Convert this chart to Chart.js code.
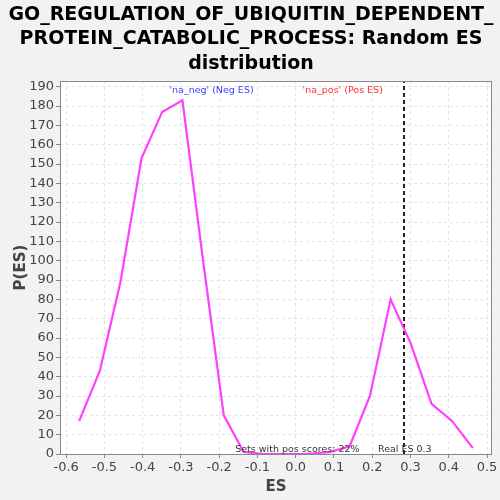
<!DOCTYPE html>
<html>
<head>
<meta charset="utf-8">
<script src="https://cdn.jsdelivr.net/npm/chart.js@4.4.0/dist/chart.umd.min.js"></script>
<style>
  html, body { margin: 0; padding: 0; background: #f2f2f2; }
  #wrap { width: 500px; height: 500px; }
</style>
</head>
<body>
<div id="wrap"><canvas id="c" width="500" height="500"></canvas></div>
<script>
// Datos
const esValues = [-0.566, -0.512, -0.458, -0.403, -0.349, -0.296, -0.242, -0.188, -0.136,
                  -0.082, -0.028, 0.027, 0.088, 0.141, 0.194, 0.248, 0.301, 0.355, 0.409, 0.463];
const pValues  = [17, 43, 89, 153, 177, 183, 100, 20, 1,
                  0, 0, 0, 1, 4, 30, 80, 57, 26, 17, 3];
const realES = 0.283;
const titleLines = ['GO_REGULATION_OF_UBIQUITIN_DEPENDENT_', 'PROTEIN_CATABOLIC_PROCESS: Random ES', 'distribution'];
const xRange = [-0.616, 0.513];
const yRange = [0, 193];

const FONT = '"DejaVu Sans", Tahoma, sans-serif';

// Fondo, título, borde y textos anotados (plugin propio)
const decor = {
  id: 'decor',
  beforeDraw(chart) {
    const { ctx, chartArea: a } = chart;
    ctx.save();
    ctx.fillStyle = '#f2f2f2';
    ctx.fillRect(0, 0, chart.width, chart.height);
    ctx.fillStyle = '#ffffff';
    ctx.fillRect(a.left, a.top, a.right - a.left, a.bottom - a.top);
    ctx.fillStyle = '#000';
    ctx.font = 'bold 19px ' + FONT;
    ctx.textAlign = 'center';
    ctx.textBaseline = 'middle';
    titleLines.forEach((t, i) => ctx.fillText(t, 251, 15 + i * 24.5));
    ctx.restore();
  },
  afterDraw(chart) {
    const { ctx, chartArea: a, scales } = chart;
    ctx.save();
    ctx.strokeStyle = '#888';
    ctx.lineWidth = 1;
    ctx.strokeRect(a.left + 0.5, a.top + 0.5, a.right - a.left - 1, a.bottom - a.top);
    ctx.font = '9.5px ' + FONT;
    ctx.textBaseline = 'middle';
    ctx.textAlign = 'left';
    ctx.fillStyle = '#4040ff';
    ctx.fillText("'na_neg' (Neg ES)", scales.x.getPixelForValue(-0.33), a.top + 10);
    ctx.fillStyle = '#ff3030';
    ctx.fillText("'na_pos' (Pos ES)", scales.x.getPixelForValue(0.018), a.top + 10);
    ctx.fillStyle = '#333';
    ctx.fillText('Sets with pos scores: 22%', scales.x.getPixelForValue(-0.158), a.bottom - 4);
    ctx.fillText('Real ES 0.3', scales.x.getPixelForValue(0.215), a.bottom - 4);
    ctx.restore();
  }
};

const gridOpts = { color: '#e4e4e4', tickColor: '#888', tickLength: 4, tickBorderDash: [] };
const borderOpts = { display: false, dash: [3, 3] };

new Chart(document.getElementById('c'), {
  type: 'scatter',
  data: {
    datasets: [
      {
        data: esValues.map((x, i) => ({ x, y: pValues[i] })),
        showLine: true,
        borderColor: '#ff40ff',
        borderWidth: 2.2,
        pointRadius: 0,
        tension: 0
      },
      {
        data: [{ x: realES, y: yRange[0] }, { x: realES, y: yRange[1] }],
        showLine: true,
        borderColor: '#222',
        borderWidth: 2,
        borderDash: [4, 3],
        pointRadius: 0
      }
    ]
  },
  options: {
    responsive: false,
    animation: false,
    events: [],
    layout: { padding: { top: 81, right: 8, left: 0, bottom: 0 } },
    plugins: { legend: { display: false }, title: { display: false }, tooltip: { enabled: false } },
    scales: {
      x: {
        type: 'linear', min: xRange[0], max: xRange[1],
        ticks: { stepSize: 0.1, includeBounds: false, color: '#444', font: { size: 13, family: FONT }, padding: 2,
                 callback: v => (Math.abs(v) < 1e-9 ? '0.0' : v.toFixed(1)) },
        grid: gridOpts,
        border: borderOpts,
        title: { display: true, text: 'ES', color: '#444', font: { size: 15, weight: 'bold', family: FONT }, padding: { top: 4 } },
        afterFit: s => { s.height = 46; }
      },
      y: {
        min: yRange[0], max: yRange[1],
        ticks: { stepSize: 10, includeBounds: false, color: '#444', font: { size: 13, family: FONT }, padding: 2 },
        grid: gridOpts,
        border: borderOpts,
        title: { display: true, text: 'P(ES)', color: '#444', font: { size: 15, weight: 'bold', family: FONT }, padding: { top: 12, bottom: 0 } },
        afterFit: s => { s.width = 60; }
      }
    }
  },
  plugins: [decor]
});
</script>
</body>
</html>
